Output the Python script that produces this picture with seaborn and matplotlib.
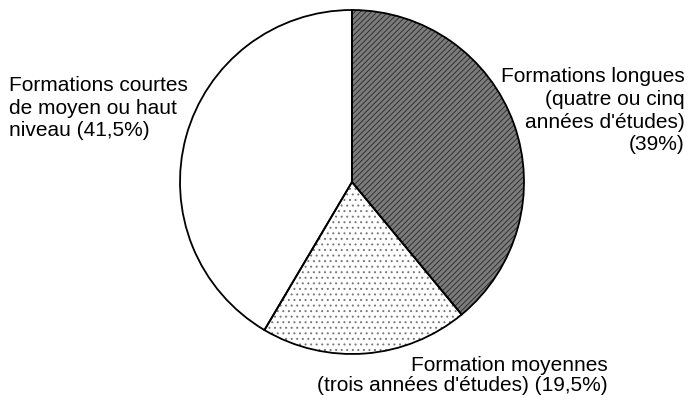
import matplotlib
matplotlib.use("Agg")
import matplotlib.pyplot as plt
import seaborn as sns

categories = ["Formations longues\n(quatre ou cinq\nannées d'études)\n(39%)",
              "Formation moyennes\n(trois années d'études) (19,5%)",
              "Formations courtes\nde moyen ou haut\nniveau (41,5%)"]
shares = [39.0, 19.5, 41.5]

sns.set_theme(style="white")
plt.rcParams['font.family'] = ['Liberation Sans', 'DejaVu Sans']
plt.rcParams['hatch.linewidth'] = 0.7

fig = plt.figure(figsize=(6.91, 4.0), dpi=100)
ax = fig.add_axes([0, 0, 1, 1])

cx, cy, r = 352, 400 - 182, 172
# fill layer (hatched textures)
fills, _ = ax.pie(shares, startangle=90, counterclock=False, center=(cx, cy),
                  radius=r, colors=['#7c7c7c', 'white', 'white'],
                  wedgeprops=dict(linewidth=0))
fills[0].set_hatch('//////')
fills[0].set_edgecolor('#303030')
fills[1].set_hatch('...')
fills[1].set_edgecolor('#777777')
fills[2].set_edgecolor('white')
# outline layer
ax.pie(shares, startangle=90, counterclock=False, center=(cx, cy),
       radius=r, colors=['none', 'none', 'none'],
       wedgeprops=dict(edgecolor='black', linewidth=1.3, fill=False))

ax.set_xlim(0, 691)
ax.set_ylim(0, 400)
ax.set_aspect('equal')
ax.axis('off')

fs = 15
ax.text(685, 400 - 67, categories[0], ha='right', va='top', fontsize=fs,
        linespacing=1.25, color='black')
ax.text(608, 400 - 356, categories[1], ha='right', va='top', fontsize=fs,
        linespacing=1.08, color='black')
ax.text(9, 400 - 76, categories[2], ha='left', va='top', fontsize=fs,
        linespacing=1.25, color='black')

fig.savefig("out.png", dpi=100)
